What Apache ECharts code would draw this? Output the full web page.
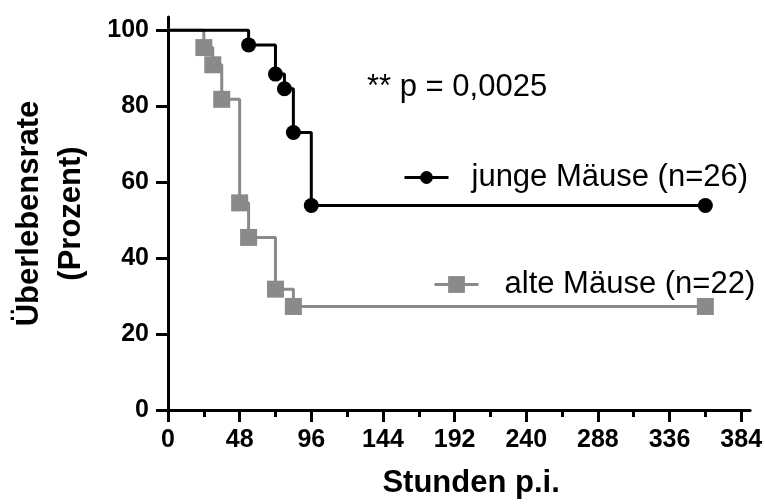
<!DOCTYPE html>
<html>
<head>
<meta charset="utf-8">
<script src="https://cdn.jsdelivr.net/npm/echarts@6/dist/echarts.min.js"></script>
<style>
  html, body { margin: 0; padding: 0; background: #fff; }
  #chart { width: 765px; height: 504px; }
</style>
</head>
<body>
<div id="chart"></div>
<script>
// Kaplan-Meier survival: hours post infection vs. percent surviving
const youngName = 'junge Mäuse (n=26)';
const youngHours = [0, 54, 72, 78, 84, 96, 360];
const youngSurvival = [100, 96.15, 88.46, 84.62, 73.08, 53.85, 53.85];

const oldName = 'alte Mäuse (n=22)';
const oldHours = [0, 24, 30, 36, 48, 54, 72, 84, 360];
const oldSurvival = [100, 95.45, 90.91, 81.82, 54.55, 45.45, 31.82, 27.27, 27.27];

const hourTicks = [0, 48, 96, 144, 192, 240, 288, 336, 384];
const percentTicks = [0, 20, 40, 60, 80, 100];
const pValueText = '** p = 0,0025';

const FONT = '"Liberation Sans", Arial, Helvetica, sans-serif';

// minor ticks halfway between the labelled hour ticks
const hourMinorTicks = hourTicks.slice(0, -1).map((h, i) => (h + hourTicks[i + 1]) / 2);

// steps start at 100 % without a symbol; every event gets a marker
function curve(hours, survival) {
  return hours.map((h, i) => i === 0
    ? { value: [h, survival[i]], symbol: 'none' }
    : { value: [h, survival[i]] });
}

const axisBlack = { lineStyle: { color: '#000', width: 3 } };

const chart = echarts.init(document.getElementById('chart'), null, { renderer: 'canvas' });
chart.setOption({
  animation: false,
  backgroundColor: '#fff',
  textStyle: { fontFamily: FONT },
  title: {
    text: pValueText,
    left: 367,
    top: 72,
    padding: 0,
    textStyle: { fontFamily: FONT, fontSize: 31, fontWeight: 'normal', color: '#000' }
  },
  legend: [
    {
      data: [youngName],
      left: 403,
      top: 162,
      padding: 0,
      itemWidth: 44,
      itemHeight: 16,
      lineStyle: { width: 3 },
      textStyle: { fontFamily: FONT, fontSize: 31, color: '#000', padding: [0, 0, 0, 18] }
    },
    {
      data: [oldName],
      left: 433,
      top: 269,
      padding: 0,
      itemWidth: 44,
      itemHeight: 21,
      lineStyle: { width: 3 },
      textStyle: { fontFamily: FONT, fontSize: 31, color: '#000', padding: [0, 0, 0, 21] }
    }
  ],
  grid: { left: 166, right: 14, top: 17, bottom: 88 },
  xAxis: [
    {
      type: 'value',
      min: 0,
      max: 390,
      axisLine: axisBlack,
      axisTick: { show: true, length: 12, lineStyle: { color: '#000', width: 3 }, customValues: hourTicks },
      axisLabel: {
        customValues: hourTicks,
        margin: 18,
        color: '#000',
        fontFamily: FONT,
        fontSize: 25,
        fontWeight: 'bold'
      },
      splitLine: { show: false },
      name: 'Stunden p.i.',
      nameLocation: 'middle',
      nameGap: 58,
      nameTextStyle: { fontFamily: FONT, fontSize: 31, fontWeight: 'bold', color: '#000', padding: [0, 0, 0, 24] }
    },
    {
      type: 'value',
      min: 0,
      max: 390,
      position: 'bottom',
      axisLine: { show: false },
      axisTick: { show: true, length: 7, lineStyle: { color: '#000', width: 3 }, customValues: hourMinorTicks },
      axisLabel: { show: false },
      splitLine: { show: false }
    }
  ],
  yAxis: {
    type: 'value',
    min: 0,
    max: 103.5,
    axisLine: axisBlack,
    axisTick: { show: true, length: 12, lineStyle: { color: '#000', width: 3 }, customValues: percentTicks },
    axisLabel: {
      customValues: percentTicks,
      margin: 19,
      color: '#000',
      fontFamily: FONT,
      fontSize: 25,
      fontWeight: 'bold'
    },
    splitLine: { show: false },
    name: 'Überlebensrate\n(Prozent)',
    nameLocation: 'middle',
    nameGap: 76,
    nameTextStyle: { fontFamily: FONT, fontSize: 31, fontWeight: 'bold', color: '#000', lineHeight: 42, align: 'center' }
  },
  series: [
    {
      name: oldName,
      type: 'line',
      step: 'end',
      data: curve(oldHours, oldSurvival),
      symbol: 'rect',
      symbolSize: 17,
      color: '#8a8a8a',
      lineStyle: { color: '#8a8a8a', width: 3 },
      itemStyle: { color: '#8a8a8a' },
      clip: false
    },
    {
      name: youngName,
      type: 'line',
      step: 'end',
      data: curve(youngHours, youngSurvival),
      symbol: 'circle',
      symbolSize: 15,
      color: '#000',
      lineStyle: { color: '#000', width: 3 },
      itemStyle: { color: '#000' },
      clip: false
    }
  ]
});
</script>
</body>
</html>
